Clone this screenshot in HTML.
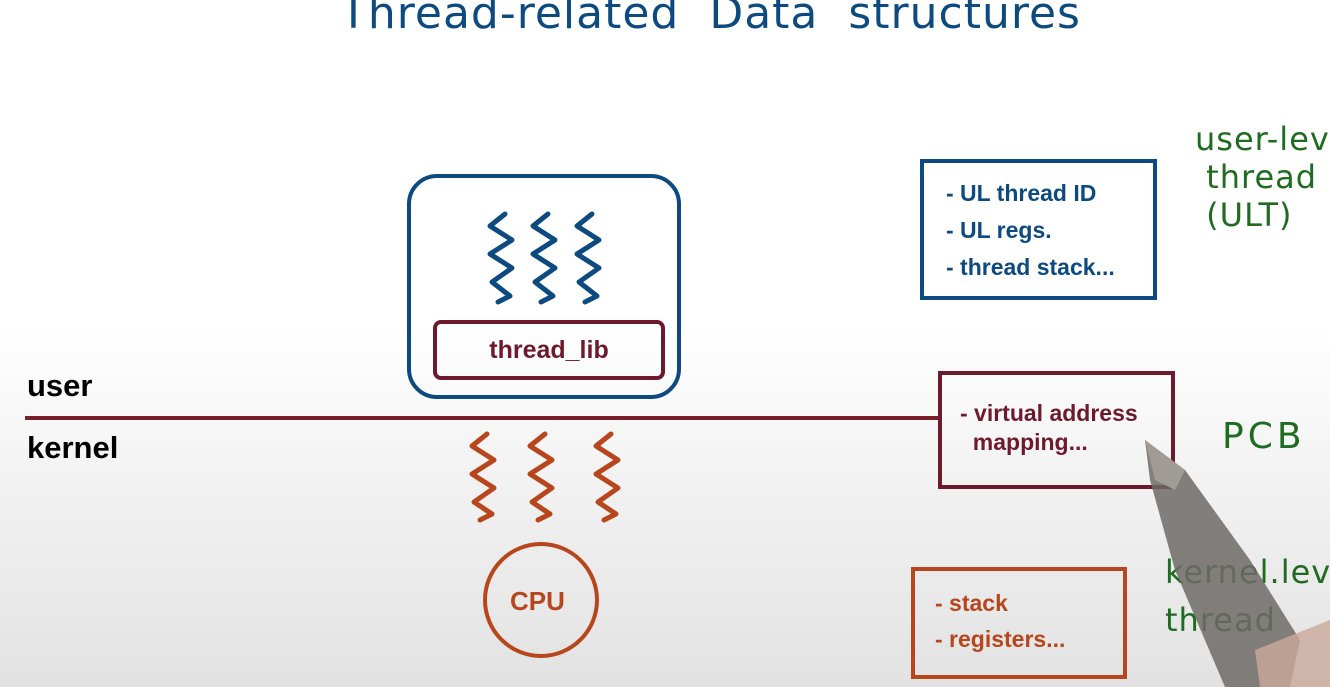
<!DOCTYPE html>
<html><head><meta charset="utf-8"><style>
html,body{margin:0;padding:0}
body{width:1330px;height:687px;overflow:hidden;position:relative;font-family:"Liberation Sans",sans-serif;
background:linear-gradient(to bottom,#fff 0px,#fff 330px,#f2f2f2 480px,#e2e2e2 687px)}
.abs{position:absolute;white-space:nowrap}
.hand{font-family:"DejaVu Sans","Liberation Sans",sans-serif;font-weight:normal}
</style></head><body>
<div class="abs hand" style="left:340px;top:-12px;font-size:44px;color:#0d4a80;letter-spacing:1px">Thread-related&nbsp; Data&nbsp; structures</div>

<div class="abs" style="left:407px;top:174px;width:266px;height:217px;border:4px solid #0d4a80;border-radius:30px"></div>
<div class="abs" style="left:433px;top:320px;width:224px;height:52px;border:4px solid #6e1a2e;border-radius:8px;color:#6e1a2e;font-weight:bold;font-size:25px;text-align:center;line-height:52px">thread_lib</div>

<svg class="abs" style="left:0;top:0" width="1330" height="687">
<g fill="none" stroke="#0d4a80" stroke-width="5" stroke-linecap="round" stroke-linejoin="round">
<path d="M505 214 L490 226 L512 240 L490 254 L512 268 L492 282 L510 296 L498 302"/>
<path d="M548 214 L533 226 L555 240 L533 254 L555 268 L535 282 L553 296 L541 302"/>
<path d="M592 214 L577 226 L599 240 L577 254 L599 268 L579 282 L597 296 L585 302"/>
</g>
<g fill="none" stroke="#b8461c" stroke-width="5" stroke-linecap="round" stroke-linejoin="round">
<path d="M487 434 L472 446 L494 460 L472 474 L494 488 L474 502 L492 514 L480 520"/>
<path d="M545 434 L530 446 L552 460 L530 474 L552 488 L532 502 L550 514 L538 520"/>
<path d="M611 434 L596 446 L618 460 L596 474 L618 488 L598 502 L616 514 L604 520"/>
</g>
<line x1="25" y1="418" x2="940" y2="418" stroke="#7a1f2a" stroke-width="4"/>
<circle cx="541" cy="600" r="56" fill="none" stroke="#b8461c" stroke-width="4"/>
</svg>
<div class="abs" style="left:510px;top:586px;font-weight:bold;font-size:26px;color:#b8461c">CPU</div>

<div class="abs" style="left:27px;top:368px;font-weight:bold;font-size:31px;color:#000">user</div>
<div class="abs" style="left:27px;top:430px;font-weight:bold;font-size:31px;color:#000">kernel</div>

<div class="abs" style="left:920px;top:159px;width:229px;height:133px;border:4px solid #0d4a80;color:#0d4a80;font-weight:bold;font-size:23px;line-height:37px">
<div style="padding:16px 0 0 22px;margin-top:-4px">- UL thread ID<br>- UL regs.<br>- thread stack...</div></div>

<div class="abs" style="left:938px;top:371px;width:229px;height:110px;border:4px solid #6e1a2e;color:#6e1a2e;font-weight:bold;font-size:23px;line-height:29px">
<div style="padding:28px 0 0 18px;margin-top:-4px">- virtual address<br>&nbsp;&nbsp;mapping...</div></div>

<div class="abs" style="left:911px;top:567px;width:208px;height:104px;border:4px solid #b8461c;color:#b8461c;font-weight:bold;font-size:23px;line-height:36px">
<div style="padding:18px 0 0 20px;margin-top:-4px">- stack<br>- registers...</div></div>

<div class="abs hand" style="left:1195px;top:120px;font-size:32px;color:#1f6b20;line-height:38px;letter-spacing:1px">user-lev<br>&nbsp;thread<br>&nbsp;(ULT)</div>
<div class="abs hand" style="left:1222px;top:416px;font-size:36px;color:#1f6b20;letter-spacing:4px">PCB</div>
<div class="abs hand" style="left:1165px;top:548px;font-size:32px;color:#1f6b20;line-height:48px;letter-spacing:1px">kernel.lev<br>thread</div>

<svg class="abs" style="left:0;top:0" width="1330" height="687">
<path d="M1145 440 L1185 470 L1250 560 L1300 640 L1290 687 L1225 687 L1175 570 L1150 480 Z" fill="#6e6a66" opacity="0.85"/>
<path d="M1145 440 L1185 470 L1175 490 L1155 480 Z" fill="#a09b95"/>
<path d="M1255 650 L1330 620 L1330 687 L1260 687 Z" fill="#c9a99a" opacity="0.8"/>
</svg>
</body></html>
